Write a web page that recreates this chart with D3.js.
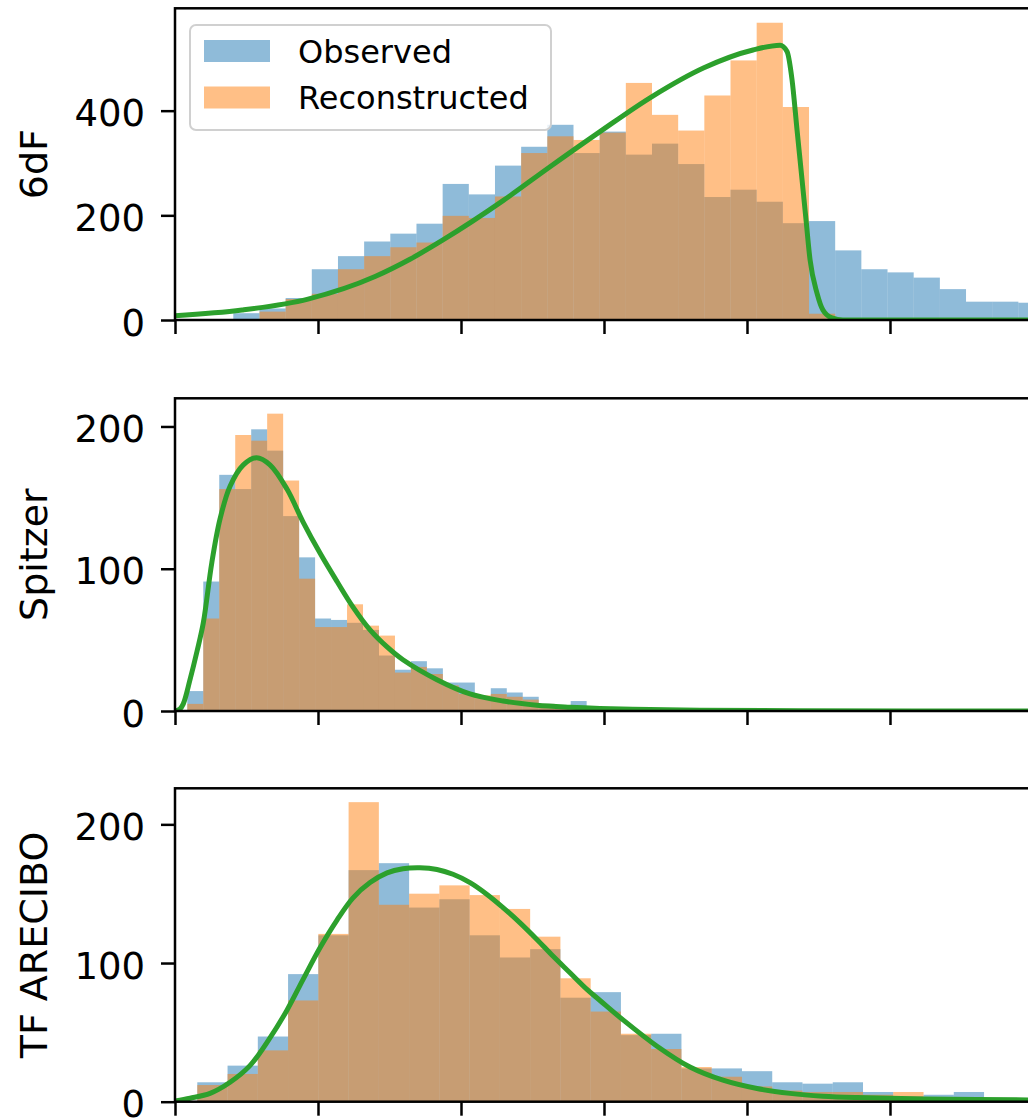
<!DOCTYPE html>
<html>
<head>
<meta charset="utf-8">
<script src="https://cdn.jsdelivr.net/npm/d3@7"></script>
<style>
  body { margin: 0; background: #ffffff; }
  svg { display: block; }
</style>
</head>
<body>
<svg id="chart" width="1028" height="1118"></svg>
<script>
// ---- data -------------------------------------------------------------
const panelNames = ["6dF", "Spitzer", "TF ARECIBO"];
const seriesNames = ["Observed", "Reconstructed"];
const xTicks = [0, 1, 2, 3, 4, 5, 6];

// 6dF: histogram bins (first edge, width) and counts
const binStart6dF = 0.4077, binWidth6dF = 0.1830;
const observed6dF = [13, 22, 42, 97, 122, 150, 165, 184, 260, 240, 295, 331, 373, 319, 360,
                     316, 337, 298, 235, 249, 226, 185, 189, 133, 97, 91, 81, 59, 35, 35, 33];
const reconstructed6dF = [1, 16, 40, 50, 97, 122, 139, 148, 199, 195, 236, 319, 351, 344, 358,
                          453, 392, 362, 429, 496, 568, 407, 12, 2, 0, 0, 0, 0, 0, 0, 0];
const fitX6dF = [0, 0.469, 0.930, 1.399, 1.643, 1.874, 2.294, 2.608, 2.972, 3.336, 3.699, 4.042,
                 4.231, 4.280, 4.315, 4.350, 4.385, 4.413, 4.441, 4.490, 4.531, 4.594, 4.671, 6.084];
const fitY6dF = [8, 19, 40, 83, 116, 153, 228, 290, 360, 427, 482, 516,
                 525, 513, 459, 363, 268, 191, 115, 51, 19, 4, 0, 0];
const yTicks6dF = [0, 200, 400];
const yMax6dF = 595.6;

// Spitzer
const binStartSpitzer = 0.0860, binWidthSpitzer = 0.11171;
const observedSpitzer = [14, 91, 166, 156, 198, 183, 137, 108, 65, 64, 62, 57, 39, 29, 35, 30,
                         20, 20, 9, 16, 13, 10, 5, 4, 7, 2, 1];
const reconstructedSpitzer = [5, 65, 156, 194, 190, 209, 162, 93, 59, 59, 75, 60, 53, 27, 31, 26,
                              18, 12, 11, 12, 10, 8, 5, 4, 2, 1, 1];
const fitXSpitzer = [0, 0.035, 0.058, 0.105, 0.154, 0.198, 0.257, 0.315, 0.385, 0.478, 0.571, 0.664,
                     0.783, 0.895, 1.014, 1.133, 1.245, 1.364, 1.483, 1.594, 1.832, 2.063, 2.294,
                     2.531, 2.762, 2.972, 3.322, 3.671, 4.371, 6.084];
const fitYSpitzer = [0, 1.5, 5, 22, 42, 62, 104, 135, 158, 173, 178, 173,
                     156, 133, 111, 91, 73, 57, 45, 36, 22, 12, 7,
                     4, 2.6, 1.8, 1.1, 0.6, 0.2, 0];
const yTicksSpitzer = [0, 100, 200];
const yMaxSpitzer = 219.8;

// TF ARECIBO
const binStartArecibo = 0.1559, binWidthArecibo = 0.21161;
const observedArecibo = [14, 26, 47, 92, 120, 167, 172, 140, 146, 120, 104, 110, 75, 79, 48, 49,
                         24, 24, 22, 14, 13, 14, 7, 4, 5, 7, 1];
const reconstructedArecibo = [12, 20, 37, 73, 121, 216, 142, 150, 156, 149, 139, 119, 89, 65, 49, 38,
                              25, 18, 11, 8, 7, 7, 5, 7, 3, 3, 1];
const fitXArecibo = [0, 0.105, 0.245, 0.385, 0.524, 0.664, 0.783, 0.895, 1.014, 1.133, 1.245, 1.364,
                     1.483, 1.594, 1.713, 1.832, 1.944, 2.063, 2.182, 2.294, 2.413, 2.531, 2.643,
                     2.762, 2.881, 2.972, 3.133, 3.371, 3.601, 3.832, 4.070, 4.301, 4.531, 4.769,
                     5.231, 6.084];
const fitYArecibo = [0.5, 2.5, 6, 14, 26, 46, 66, 88, 111, 131, 147, 158,
                     165, 168, 168.7, 167.5, 164, 158, 149.5, 140, 129, 117, 105,
                     93, 81, 73, 59, 40, 25, 15.5, 9.5, 6, 4, 3,
                     2, 1.2];
const yTicksArecibo = [0, 100, 200];
const yMaxArecibo = 226;

// ---- layout -----------------------------------------------------------
const svg = d3.select("#chart");
svg.append("rect").attr("width", 1028).attr("height", 1118).attr("fill", "#ffffff");

const plotLeft = 175, plotRight = 1045;
const panelBoxes = [
  { top: 8.3, bottom: 320 },
  { top: 398.3, bottom: 711 },
  { top: 788.3, bottom: 1101.7 }
];
const blue = "#1f77b4", orange = "#ff7f0e", green = "#2ca02c";
const font = "'DejaVu Sans', Verdana, sans-serif";

const x = d3.scaleLinear().domain([0, 6.084]).range([plotLeft, plotRight]);

// the 6dF fit has a sharp cut-off, so it keeps a monotone spline; the others are smoothed
const panels = [
  { name: panelNames[0], start: binStart6dF, width: binWidth6dF, obs: observed6dF, rec: reconstructed6dF,
    fx: fitX6dF, fy: fitY6dF, ticks: yTicks6dF, ymax: yMax6dF, curve: d3.curveMonotoneX },
  { name: panelNames[1], start: binStartSpitzer, width: binWidthSpitzer, obs: observedSpitzer, rec: reconstructedSpitzer,
    fx: fitXSpitzer, fy: fitYSpitzer, ticks: yTicksSpitzer, ymax: yMaxSpitzer, curve: d3.curveCatmullRom.alpha(0.5) },
  { name: panelNames[2], start: binStartArecibo, width: binWidthArecibo, obs: observedArecibo, rec: reconstructedArecibo,
    fx: fitXArecibo, fy: fitYArecibo, ticks: yTicksArecibo, ymax: yMaxArecibo, curve: d3.curveCatmullRom.alpha(0.5) }
];

panels.forEach((p, k) => {
  const box = panelBoxes[k];
  const y = d3.scaleLinear().domain([0, p.ymax]).range([box.bottom, box.top]);
  const g = svg.append("g");

  const clipId = "clip" + k;
  svg.append("clipPath").attr("id", clipId)
    .append("rect")
    .attr("x", plotLeft).attr("y", box.top)
    .attr("width", plotRight - plotLeft).attr("height", box.bottom - box.top);

  const plot = g.append("g").attr("clip-path", `url(#${clipId})`);

  // histogram bars, observed first then reconstructed over it
  [[p.obs, blue], [p.rec, orange]].forEach(([counts, color]) => {
    plot.append("g").selectAll("rect")
      .data(counts)
      .join("rect")
      .attr("x", (d, i) => x(p.start + i * p.width))
      .attr("width", (d, i) => x(p.start + (i + 1) * p.width) - x(p.start + i * p.width))
      .attr("y", d => y(d))
      .attr("height", d => y(0) - y(d))
      .attr("fill", color)
      .attr("fill-opacity", 0.5);
  });

  // fitted density curve
  const pts = p.fx.map((v, i) => [v, p.fy[i]]);
  plot.append("path")
    .datum(pts)
    .attr("fill", "none")
    .attr("stroke", green)
    .attr("stroke-width", 5)
    .attr("stroke-linejoin", "round")
    .attr("d", d3.line().x(d => x(d[0])).y(d => y(Math.max(0, d[1]))).curve(p.curve));

  // y axis
  const yAxis = g.append("g")
    .attr("transform", `translate(${plotLeft},0)`)
    .call(d3.axisLeft(y).tickValues(p.ticks).tickFormat(d3.format("d"))
      .tickSize(14).tickSizeOuter(0).tickPadding(16));
  yAxis.select(".domain").remove();
  yAxis.selectAll(".tick line").attr("stroke", "#000").attr("stroke-width", 2.5);
  yAxis.selectAll(".tick text")
    .attr("fill", "#000")
    .attr("font-family", font)
    .attr("font-size", 37)
    .attr("dy", "0.41em");

  // x axis (ticks only, labels hidden)
  const xAxis = g.append("g")
    .attr("transform", `translate(0,${box.bottom})`)
    .call(d3.axisBottom(x).tickValues(xTicks).tickFormat("").tickSize(14).tickSizeOuter(0));
  xAxis.select(".domain").remove();
  xAxis.selectAll(".tick line").attr("stroke", "#000").attr("stroke-width", 2.5);

  // spines
  g.append("rect")
    .attr("x", plotLeft).attr("y", box.top)
    .attr("width", plotRight - plotLeft).attr("height", box.bottom - box.top)
    .attr("fill", "none").attr("stroke", "#000").attr("stroke-width", 2.5);

  // y label
  g.append("text")
    .attr("transform", `translate(47,${(box.top + box.bottom) / 2}) rotate(-90)`)
    .attr("text-anchor", "middle")
    .attr("font-family", font)
    .attr("font-size", 38)
    .attr("fill", "#000")
    .text(p.name);
});

// ---- legend (top panel) ----------------------------------------------
const legend = svg.append("g");
legend.append("rect")
  .attr("x", 190).attr("y", 25).attr("width", 361).attr("height", 105)
  .attr("rx", 6).attr("ry", 6)
  .attr("fill", "#ffffff").attr("fill-opacity", 0.8)
  .attr("stroke", "#d0d0d0").attr("stroke-width", 2);
[[seriesNames[0], blue, 51], [seriesNames[1], orange, 97.5]].forEach(([label, color, cy]) => {
  legend.append("rect")
    .attr("x", 204).attr("y", cy - 11).attr("width", 66).attr("height", 22)
    .attr("fill", color).attr("fill-opacity", 0.5);
  legend.append("text")
    .attr("x", 298).attr("y", cy + 11.6)
    .attr("font-family", font).attr("font-size", 32)
    .attr("fill", "#000")
    .text(label);
});
</script>
</body>
</html>
